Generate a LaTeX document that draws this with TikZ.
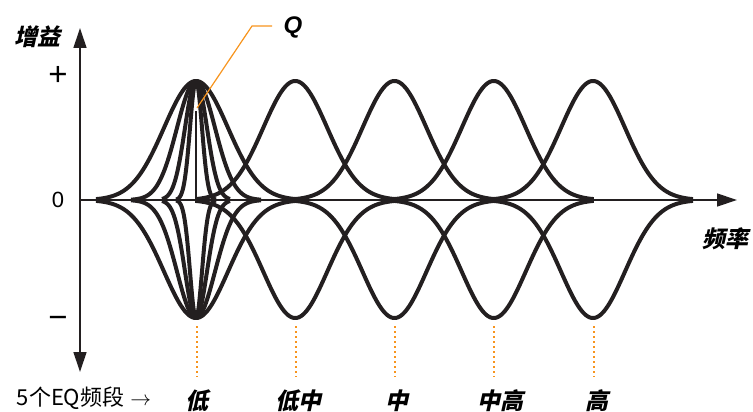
\documentclass[tikz,border=0pt]{standalone}
\usepackage{fontspec}
\setmainfont{Liberation Sans}
\newfontfamily\cjkbi[FakeSlant=0.22]{Noto Sans CJK SC}
\newfontfamily\cjkr{Noto Sans CJK SC}
\usetikzlibrary{arrows.meta}
\definecolor{ink}{HTML}{231F20}
\definecolor{qorange}{HTML}{F7941D}
\begin{document}
\begin{tikzpicture}[x=1pt,y=-1pt,
  curve/.style={line width=4pt, draw=ink, line join=round},
  axisline/.style={line width=1.3pt, draw=ink},
  tipend/.style={-{Triangle[length=20pt,width=13pt]}},
  leader/.style={draw=qorange, line width=1.2pt},
  dotline/.style={draw=qorange, line width=2pt, dash pattern=on 1.8pt off 3.2pt},
  bandlab/.style={inner sep=0pt, font=\cjkbi\bfseries\fontsize{23}{23}\selectfont},
  axlab/.style={inner sep=0pt, font=\cjkbi\bfseries\fontsize{23}{23}\selectfont},
  sign/.style={inner sep=0pt, font=\fontsize{22}{22}\selectfont}]
\useasboundingbox (0,0) rectangle (753,412);
% axes
\coordinate (ytop) at (80,28);
\coordinate (ybot) at (80,372);
\coordinate (xorig) at (80,200);
\coordinate (xend) at (737,200);
\draw[axisline,{Triangle[length=20pt,width=13pt]}-{Triangle[length=20pt,width=13pt]}] (ybot) -- (ytop);
\draw[axisline,tipend] (xorig) -- (xend);
% standard bands
\foreach \c in {295.25,394.5,493.75,593} {
  \draw[curve] plot[domain=-100:100,samples=121] ({\c+\x},{200-119*exp(-(\x*\x)/2048)});
  \draw[curve] plot[domain=-100:100,samples=121] ({\c+\x},{200+118*exp(-(\x*\x)/2048)});
}
% band 1 with different Q
\foreach \s/\w in {32/100,19/65,11/34,6/20} {
  \draw[curve] plot[domain=-\w:\w,samples=121] ({196+\x},{200-119*exp(-(\x*\x)/(2*\s*\s))});
  \draw[curve] plot[domain=-\w:\w,samples=121] ({196+\x},{200+118*exp(-(\x*\x)/(2*\s*\s))});
}
% Q marker
\coordinate (qbase) at (196,200);
\coordinate (qtop) at (196,111);
\draw[axisline,line width=1.2pt] (qbase) -- (qtop);
\coordinate (qa) at (197,108);
\coordinate (qb) at (252,26);
\coordinate (qc) at (272,26);
\draw[leader] (qa) -- (qb) -- (qc);
\node[inner sep=0pt, font=\bfseries\itshape\fontsize{24}{24}\selectfont] (Q) at (293,27) {Q};
% labels on axes
\node[axlab] (gain) at (38,37) {增益};
\node[axlab] (freq) at (725,239) {频率};
\node[sign,font=\fontsize{33}{33}\selectfont] (plus) at (58,76) {+};
\node[sign] (zero) at (58,200) {0};
\node[sign,font=\fontsize{33}{33}\selectfont] (minus) at (58,322) {−};
% dotted markers
\foreach \c/\n in {197/a,296/b,395/c,494/d,594/e} {
  \coordinate (d\n1) at (\c,326);
  \coordinate (d\n2) at (\c,377);
  \draw[dotline] (d\n1) -- (d\n2);
}
% band labels
\node[bandlab] (lo) at (197,401) {低};
\node[bandlab] (lomid) at (298,401) {低中};
\node[bandlab] (mid) at (397,401) {中};
\node[bandlab] (himid) at (500,401) {中高};
\node[bandlab] (hi) at (597,401) {高};
\node[inner sep=0pt, font=\fontsize{22}{22}\selectfont] (eq) at (84,398) {{\cjkr 5个EQ频段} $\rightarrow$};
\end{tikzpicture}
\end{document}
